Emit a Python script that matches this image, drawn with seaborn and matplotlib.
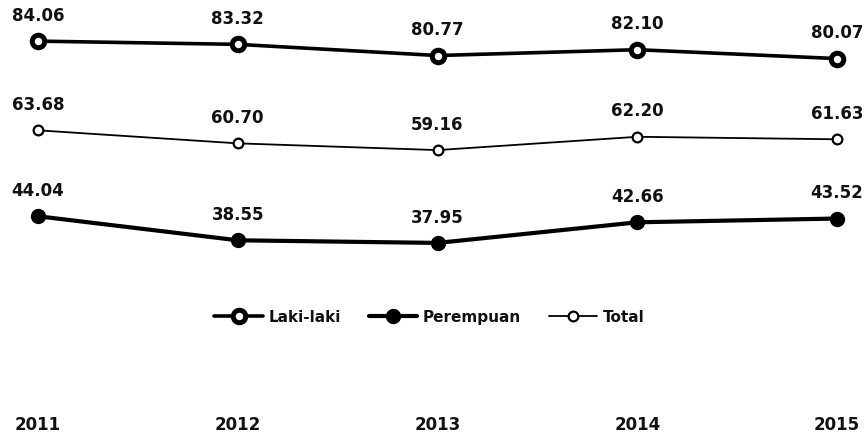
import matplotlib
matplotlib.use("Agg")
import matplotlib.pyplot as plt
import seaborn as sns
import pandas as pd

years = [2011, 2012, 2013, 2014, 2015]
laki_laki = [84.06, 83.32, 80.77, 82.10, 80.07]
perempuan = [44.04, 38.55, 37.95, 42.66, 43.52]
total = [63.68, 60.70, 59.16, 62.20, 61.63]
series_names = ["Laki-laki", "Perempuan", "Total"]

sns.set_theme(style="white")
plt.rcParams["font.family"] = ["DejaVu Sans"]

fig = plt.figure(figsize=(8.65, 4.39), dpi=100)
ax = fig.add_axes([38 / 865, (439 - 410) / 439, 799 / 865, 400 / 439])

styles = {
    "Laki-laki": dict(linewidth=2.6, marker="o", markersize=9, markerfacecolor="white",
                      markeredgecolor="black", markeredgewidth=3.6),
    "Perempuan": dict(linewidth=3.0, marker="o", markersize=10, markerfacecolor="black",
                      markeredgecolor="black", markeredgewidth=1),
    "Total": dict(linewidth=1.3, marker="o", markersize=7, markerfacecolor="white",
                  markeredgecolor="black", markeredgewidth=1.6),
}
values = {"Laki-laki": laki_laki, "Perempuan": perempuan, "Total": total}

for name in series_names:
    df = pd.DataFrame({"year": years, "value": values[name]})
    sns.lineplot(data=df, x="year", y="value", ax=ax, color="black", label=name,
                 clip_on=False, **styles[name])
    for x, y in zip(years, values[name]):
        ax.annotate(f"{y:.2f}", (x, y), xytext=(0, 19), textcoords="offset points",
                    ha="center", va="center", fontsize=12, fontweight="bold",
                    color="#111111", annotation_clip=False)

ax.set_xlim(2011, 2015)
ax.set_ylim(0, 91.4)
ax.set_xticks(years)
ax.set_xticklabels([str(y) for y in years], fontsize=12, fontweight="bold", color="#111111")
ax.tick_params(axis="x", length=0, pad=4)
ax.set_yticks([])
ax.set_xlabel("")
ax.set_ylabel("")
for s in ax.spines.values():
    s.set_visible(False)
ax.grid(False)

leg = ax.legend(loc="center", bbox_to_anchor=(0.49, 0.23), ncol=3, frameon=False,
                prop={"weight": "bold", "size": 11}, handlelength=3.2,
                handletextpad=0.35, columnspacing=1.8)
for t in leg.get_texts():
    t.set_color("#111111")

fig.savefig("out.png", dpi=100)
